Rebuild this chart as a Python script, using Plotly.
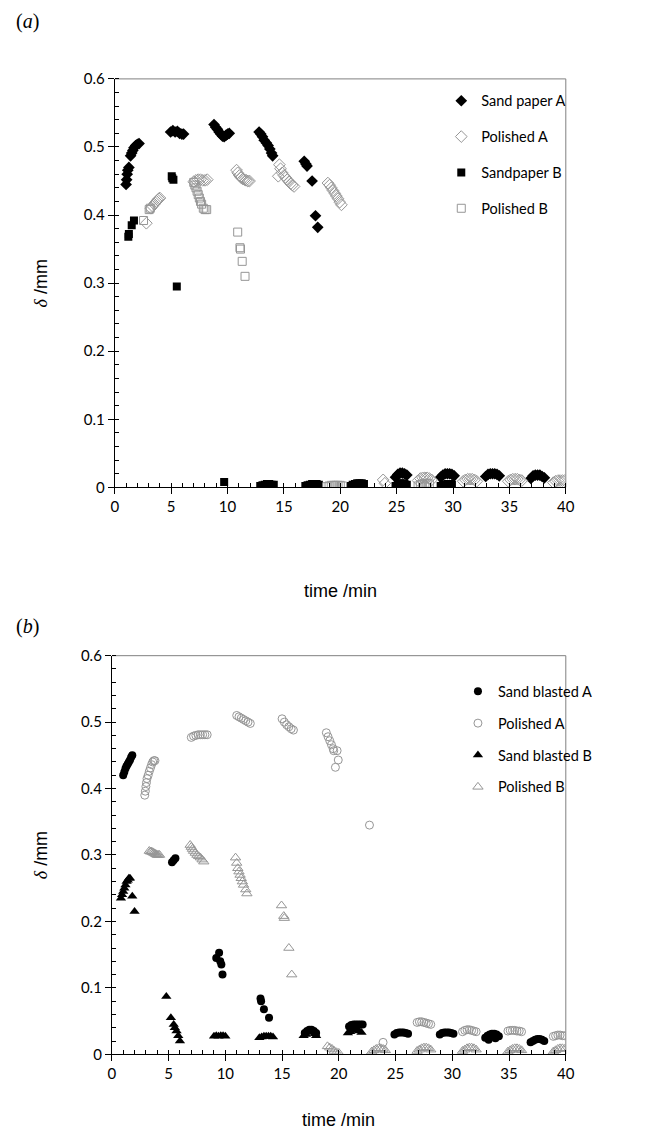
import plotly.graph_objects as go

W, H = 665, 1144

# ---------------- Panel (a) data ----------------
sandA_t = [1.0, 1.05, 1.1, 1.15, 1.25, 1.4, 1.5, 1.6, 1.7, 1.85, 2.0, 2.15,
           4.95, 5.15, 5.35, 5.55, 5.75, 5.95, 6.1,
           8.8, 8.95, 9.1, 9.25, 9.4, 9.55, 9.7, 9.85, 10.0, 10.15,
           12.8, 12.95, 13.1, 13.25, 13.45, 13.6, 13.75, 13.9, 14.0,
           16.8, 16.95, 17.05, 17.5, 17.8, 18.0,
           24.9, 25.1, 25.3, 25.5, 25.7, 25.9,
           28.9, 29.1, 29.3, 29.5, 29.7, 29.9, 30.1,
           32.9, 33.1, 33.3, 33.5, 33.7, 33.9, 34.1,
           36.9, 37.1, 37.3, 37.5, 37.7, 37.9, 38.1]
sandA_d = [.445, .452, .460, .466, .470, .487, .491, .495, .499, .502, .504, .505,
           .522, .524, .522, .523, .520, .519, .519,
           .533, .529, .526, .522, .519, .516, .515, .517, .519, .520,
           .522, .519, .515, .510, .506, .502, .497, .491, .487,
           .479, .475, .472, .450, .399, .382,
           .015, .019, .021, .021, .020, .018,
           .015, .018, .020, .020, .020, .019, .017,
           .016, .019, .020, .020, .020, .019, .017,
           .013, .017, .018, .018, .018, .016, .014]

polA_t = [2.8, 3.2, 3.35, 3.5, 3.6, 3.7, 3.8, 3.9, 4.0,
          7.0, 7.2, 7.4, 7.6, 7.8, 8.0, 8.2,
          10.8, 10.9, 11.05, 11.2, 11.35, 11.5, 11.65, 11.8, 11.95,
          14.5, 14.6, 14.7, 14.85, 15.0, 15.15, 15.3, 15.45, 15.6, 15.75, 15.9,
          18.9, 19.05, 19.2, 19.35, 19.5, 19.65, 19.8, 19.95, 20.1,
          23.8, 23.95,
          26.9, 27.1, 27.3, 27.5, 27.7, 27.9, 28.1,
          30.9, 31.1, 31.3, 31.5, 31.7, 31.9, 32.1,
          34.9, 35.1, 35.3, 35.5, 35.7, 35.9, 36.1,
          38.9, 39.1, 39.3, 39.5, 39.7, 39.9]
polA_d = [.388, .410, .413, .416, .418, .420, .422, .424, .425,
          .449, .451, .452, .452, .451, .451, .452,
          .466, .462, .458, .455, .453, .452, .451, .450, .450,
          .457, .474, .468, .462, .458, .455, .452, .449, .446, .444, .442,
          .447, .444, .440, .436, .432, .428, .424, .419, .415,
          .011, .006,
          .010, .013, .014, .014, .014, .013, .011,
          .009, .011, .012, .012, .012, .011, .009,
          .009, .011, .012, .012, .012, .011, .010,
          .007, .009, .010, .010, .010, .010]

sandB_t = [1.2, 1.25, 1.5, 1.7, 5.05, 5.1, 5.2, 5.5, 9.7,
           12.9, 13.1, 13.3, 13.5, 13.7, 13.9, 14.1,
           16.9, 17.1, 17.3, 17.5, 17.7, 17.9, 18.1,
           20.9, 21.1, 21.3, 21.5, 21.7, 21.9, 22.1,
           24.9, 25.1, 25.3, 25.5, 25.7, 25.9,
           28.9, 29.1, 29.3, 29.5, 29.7, 29.9]
sandB_d = [.368, .372, .385, .392, .457, .454, .452, .295, .008,
           .002, .003, .004, .005, .005, .004, .004,
           .002, .003, .004, .005, .005, .005, .004,
           .002, .004, .005, .006, .006, .006, .005,
           .002, .004, .006, .006, .005, .004,
           .002, .003, .004, .005, .005, .004]

polB_t = [2.55, 3.05, 3.15,
          7.0, 7.1, 7.2, 7.3, 7.4, 7.5, 7.6, 7.7, 7.85, 8.0, 8.15,
          10.9, 11.1, 11.15, 11.3, 11.55,
          18.8, 19.0, 19.2, 19.4, 19.6, 19.8, 20.0, 20.2,
          26.9, 27.1, 27.3, 27.5, 27.7, 27.9]
polB_d = [.392, .408, .410,
          .448, .444, .440, .435, .430, .425, .420, .416, .410, .408, .408,
          .375, .352, .350, .332, .310,
          .001, .002, .003, .003, .003, .003, .003, .002,
          .002, .004, .005, .006, .006, .005]

# ---------------- Panel (b) data ----------------
blA_t = [1.0, 1.1, 1.2, 1.3, 1.4, 1.5, 1.6, 1.7, 1.8,
         5.3, 5.45, 5.6,
         9.2, 9.45, 9.55, 9.65, 9.75,
         13.1, 13.15, 13.4, 13.85,
         17.0, 17.2, 17.4, 17.6, 17.8, 18.0,
         20.9, 21.1, 21.3, 21.5, 21.7, 21.9, 22.1,
         24.9, 25.1, 25.3, 25.5, 25.7, 25.9, 26.1,
         28.9, 29.1, 29.3, 29.5, 29.7, 29.9, 30.1,
         32.9, 33.1, 33.3, 33.5, 33.7, 33.9, 34.1, 33.2, 33.8,
         36.9, 37.1, 37.3, 37.5, 37.7, 37.9, 38.1]
blA_d = [.420, .425, .430, .434, .437, .440, .443, .447, .450,
         .289, .292, .295,
         .145, .153, .140, .135, .120,
         .084, .080, .068, .055,
         .032, .035, .037, .037, .035, .032,
         .042, .044, .045, .045, .045, .045, .045,
         .030, .032, .033, .033, .033, .032, .031,
         .030, .032, .033, .033, .033, .032, .031,
         .025, .028, .030, .031, .031, .030, .027, .022, .024,
         .018, .020, .022, .023, .023, .022, .020]

pbA_t = [2.9, 2.95, 3.0, 3.05, 3.1, 3.2, 3.3, 3.4, 3.5, 3.6, 3.7, 3.8,
         7.0, 7.2, 7.4, 7.6, 7.8, 8.0, 8.2, 8.4,
         11.0, 11.2, 11.4, 11.6, 11.8, 12.0, 12.2,
         15.0, 15.2, 15.4, 15.6, 15.8, 16.0,
         18.9, 19.05, 19.2, 19.35, 19.5, 19.55, 19.85, 19.95, 19.7,
         22.7, 23.9,
         26.9, 27.1, 27.3, 27.5, 27.7, 27.9, 28.1,
         30.9, 31.1, 31.3, 31.5, 31.7, 31.9, 32.1,
         34.9, 35.1, 35.3, 35.5, 35.7, 35.9, 36.1,
         38.9, 39.1, 39.3, 39.5, 39.7, 39.9]
pbA_d = [.390, .396, .403, .409, .415, .420, .426, .431, .436, .440, .442, .442,
         .477, .479, .480, .481, .481, .481, .481, .481,
         .510, .508, .506, .504, .502, .500, .498,
         .505, .500, .496, .493, .490, .488,
         .484, .478, .472, .466, .460, .457, .457, .443, .432,
         .345, .018,
         .048, .049, .049, .048, .047, .046, .045,
         .034, .036, .037, .037, .036, .035, .034,
         .035, .036, .036, .036, .035, .035, .034,
         .027, .028, .029, .029, .028, .028]

blB_t = [0.8, 0.9, 1.0, 1.1, 1.2, 1.3, 1.4, 1.5, 1.6, 1.8, 2.0,
         4.8, 5.2, 5.45, 5.55, 5.7, 5.85, 6.0,
         9.0, 9.2, 9.4, 9.6, 9.8, 10.0,
         13.0, 13.2, 13.4, 13.6, 13.8, 14.0, 14.2,
         16.9, 17.1, 17.3, 17.5, 17.7, 17.9, 18.0,
         20.8, 21.0, 21.2, 21.4, 21.6, 21.8, 22.0]
blB_d = [.235, .240, .245, .250, .255, .260, .262, .265, .265, .238, .215,
         .087, .055, .045, .040, .035, .028, .020,
         .027, .028, .027, .028, .028, .027,
         .025, .026, .027, .027, .027, .027, .026,
         .028, .030, .033, .035, .034, .031, .028,
         .032, .034, .036, .037, .037, .035, .033]

pbB_t = [3.3, 3.4, 3.5, 3.6, 3.7, 3.8, 3.9, 4.0, 4.1, 4.2,
         6.9, 7.0, 7.1, 7.2, 7.35, 7.5, 7.65, 7.8, 7.95, 8.1,
         10.9, 11.0, 11.1, 11.2, 11.3, 11.4, 11.5, 11.6, 11.8, 11.9,
         14.95, 15.15, 15.2, 15.6, 15.85,
         19.0, 19.2, 19.4, 19.6, 19.8, 20.0,
         22.9, 23.1, 23.3, 23.5, 23.7, 23.9, 24.1,
         26.9, 27.1, 27.3, 27.5, 27.7, 27.9, 28.1,
         30.9, 31.1, 31.3, 31.5, 31.7, 31.9, 32.1,
         34.9, 35.1, 35.3, 35.5, 35.7, 35.9, 36.1,
         38.9, 39.1, 39.3, 39.5, 39.7, 39.9]
pbB_d = [.306, .305, .305, .304, .303, .302, .301, .300, .300, .300,
         .315, .312, .309, .306, .303, .300, .298, .296, .293, .290,
         .296, .288, .280, .275, .270, .265, .260, .255, .248, .242,
         .224, .208, .205, .160, .120,
         .012, .010, .008, .005, .003, .002,
         .004, .006, .008, .009, .009, .008, .006,
         .005, .007, .009, .010, .010, .009, .007,
         .005, .007, .009, .010, .010, .009, .007,
         .004, .006, .008, .009, .009, .008, .006,
         .004, .006, .008, .009, .009, .008]

x_ticks = [0, 5, 10, 15, 20, 25, 30, 35, 40]
y_ticks = [0, 0.1, 0.2, 0.3, 0.4, 0.5, 0.6]

BLACK = "#000000"
GRAY = "#969696"
TICKFONT = dict(family="Lato, Carlito, sans-serif", size=15, color="black")
LEGFONT = dict(family="Lato, Carlito, sans-serif", size=14.5, color="black")


def px(x):
    return x / W


def py(y):
    return 1 - y / H


fig = go.Figure()


def add(t, d, name, symbol, color, size, xa, ya, legend, filled):
    marker = dict(symbol=symbol, size=size, color=color)
    if not filled:
        marker["line"] = dict(color=color, width=1)
    fig.add_trace(go.Scatter(x=t, y=d, mode="markers", name=name, marker=marker,
                             xaxis=xa, yaxis=ya, legend=legend, legendgroup=name + legend))


add(sandA_t, sandA_d, "Sand paper A", "diamond", BLACK, 9, "x", "y", "legend", True)
add(polA_t, polA_d, "Polished A", "diamond-open", GRAY, 9, "x", "y", "legend", False)
add(sandB_t, sandB_d, "Sandpaper B", "square", BLACK, 8, "x", "y", "legend", True)
add(polB_t, polB_d, "Polished B", "square-open", GRAY, 8, "x", "y", "legend", False)

add(blA_t, blA_d, "Sand blasted A", "circle", BLACK, 8, "x2", "y2", "legend2", True)
add(pbA_t, pbA_d, "Polished A", "circle-open", GRAY, 8, "x2", "y2", "legend2", False)
add(blB_t, blB_d, "Sand blasted B", "triangle-up", BLACK, 9, "x2", "y2", "legend2", True)
add(pbB_t, pbB_d, "Polished B", "triangle-up-open", GRAY, 9, "x2", "y2", "legend2", False)

xa_common = dict(range=[0, 40], tickvals=x_ticks, ticks="outside", ticklen=6, tickwidth=1,
                 tickcolor="black", showline=True, linecolor="black", linewidth=1,
                 showgrid=False, zeroline=False, tickfont=TICKFONT, fixedrange=True,
                 minor=dict(dtick=1, ticks="inside", ticklen=4, tickcolor="black", showgrid=False))
ya_common = dict(range=[0, 0.6], tickvals=y_ticks, ticks="outside", ticklen=6, tickwidth=1,
                 tickcolor="black", showline=True, linecolor="black", linewidth=1,
                 showgrid=False, zeroline=False, tickfont=TICKFONT, fixedrange=True,
                 minor=dict(dtick=0.02, ticks="inside", ticklen=4, tickcolor="black", showgrid=False))

ax_a_left, ax_a_right, ax_a_top, ax_a_bot = 113, 573, 70, 485
ax_b_left, ax_b_right, ax_b_top, ax_b_bot = 110, 573, 656, 1061

fig.update_layout(
    width=W, height=H,
    margin=dict(l=0, r=0, t=0, b=0),
    paper_bgcolor="white", plot_bgcolor="white",
    xaxis=dict(xa_common, domain=[px(ax_a_left), px(ax_a_right)], anchor="y"),
    yaxis=dict(ya_common, domain=[py(ax_a_bot), py(ax_a_top)], anchor="x"),
    xaxis2=dict(xa_common, domain=[px(ax_b_left), px(ax_b_right)], anchor="y2"),
    yaxis2=dict(ya_common, domain=[py(ax_b_bot), py(ax_b_top)], anchor="x2"),
    legend=dict(x=px(446), y=py(76), xanchor="left", yanchor="top", font=LEGFONT,
                bgcolor="rgba(0,0,0,0)", itemwidth=30, tracegroupgap=14),
    legend2=dict(x=px(463), y=py(676), xanchor="left", yanchor="top", font=LEGFONT,
                 bgcolor="rgba(0,0,0,0)", itemwidth=30, tracegroupgap=10),
    showlegend=True,
)

# gray top/right frame lines
for xr, yr in (("x domain", "y domain"), ("x2 domain", "y2 domain")):
    fig.add_shape(type="line", xref=xr, yref=yr, x0=0, x1=1, y0=1, y1=1,
                  line=dict(color="#808080", width=1), layer="below")
    fig.add_shape(type="line", xref=xr, yref=yr, x0=1, x1=1, y0=0, y1=1,
                  line=dict(color="#808080", width=1), layer="below")

TITLEFONT = dict(family="Liberation Sans, Arial, sans-serif", size=18, color="black")
ytitle = "<span style='font-family:Liberation Serif'><i>δ</i></span> /mm"

ann = [
    dict(text="(<i>a</i>)", x=px(10), y=py(12), xanchor="left", yanchor="middle",
         font=dict(family="Liberation Serif, Times New Roman, serif", size=20, color="black")),
    dict(text="(<i>b</i>)", x=px(10), y=py(626), xanchor="left", yanchor="middle",
         font=dict(family="Liberation Serif, Times New Roman, serif", size=20, color="black")),
    dict(text="time /min", x=px((ax_a_left + ax_a_right) / 2), y=py(590), xanchor="center",
         yanchor="middle", font=TITLEFONT),
    dict(text="time /min", x=px((ax_b_left + ax_b_right) / 2), y=py(1128), xanchor="center",
         yanchor="middle", font=TITLEFONT),
    dict(text=ytitle, x=px(38), y=py((ax_a_top + ax_a_bot) / 2), textangle=-90,
         xanchor="center", yanchor="middle", font=TITLEFONT),
    dict(text=ytitle, x=px(38), y=py((ax_b_top + ax_b_bot) / 2), textangle=-90,
         xanchor="center", yanchor="middle", font=TITLEFONT),
]
for a in ann:
    a.update(xref="paper", yref="paper", showarrow=False)
fig.update_layout(annotations=ann)

fig.write_html("out.html", include_plotlyjs=True)
